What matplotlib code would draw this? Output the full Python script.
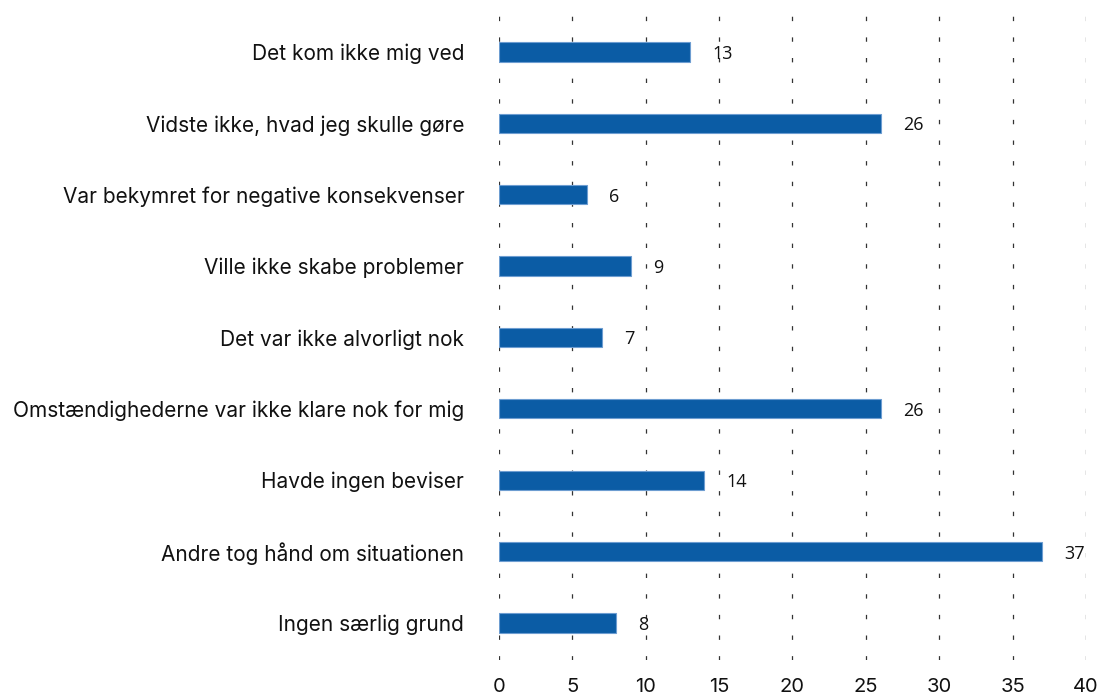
import matplotlib
matplotlib.use("Agg")
import matplotlib.pyplot as plt

# — Data —
categories = [
    "Det kom ikke mig ved",
    "Vidste ikke, hvad jeg skulle gøre",
    "Var bekymret for negative konsekvenser",
    "Ville ikke skabe problemer",
    "Det var ikke alvorligt nok",
    "Omstændighederne var ikke klare nok for mig",
    "Havde ingen beviser",
    "Andre tog hånd om situationen",
    "Ingen særlig grund",
]
values = [13, 26, 6, 9, 7, 26, 14, 37, 8]
xticks = [0, 5, 10, 15, 20, 25, 30, 35, 40]

fig = plt.figure(figsize=(11.01, 7), dpi=100)
ax = fig.add_axes([0.4532, 0.0571, 0.5332, 0.9258])

pos = list(range(len(categories)))
ax.barh(pos, values, height=0.27, color="#0b5ca5",
        edgecolor="#6d9dd1", linewidth=0.8, zorder=3)

# value labels, left-aligned a bit past the bar end
for p, v in zip(pos, values):
    ax.annotate(str(v), (v, p), xytext=(16, 0), textcoords="offset points",
                ha="left", va="center_baseline", fontsize=13,
                family="Open Sans", color="#111111", zorder=4)

ax.set_xlim(0, 40)
ax.set_ylim(8.52, -0.56)
ax.set_xticks(xticks)
ax.set_xticklabels([str(t) for t in xticks], family="Inter", fontsize=14.5,
                   color="#111111")
ax.set_yticks(pos)
ax.set_yticklabels(categories, family="Inter", fontsize=15, color="#111111")
ax.tick_params(axis="x", length=0, pad=13)
ax.tick_params(axis="y", length=0, pad=25)

for s in ax.spines.values():
    s.set_visible(False)

# dashed vertical grid
ax.grid(axis="x", color="#333333", linewidth=0.9, linestyle=(0, (3.5, 13)),
        zorder=1)
ax.set_axisbelow(True)

fig.savefig("out.png", dpi=100)
